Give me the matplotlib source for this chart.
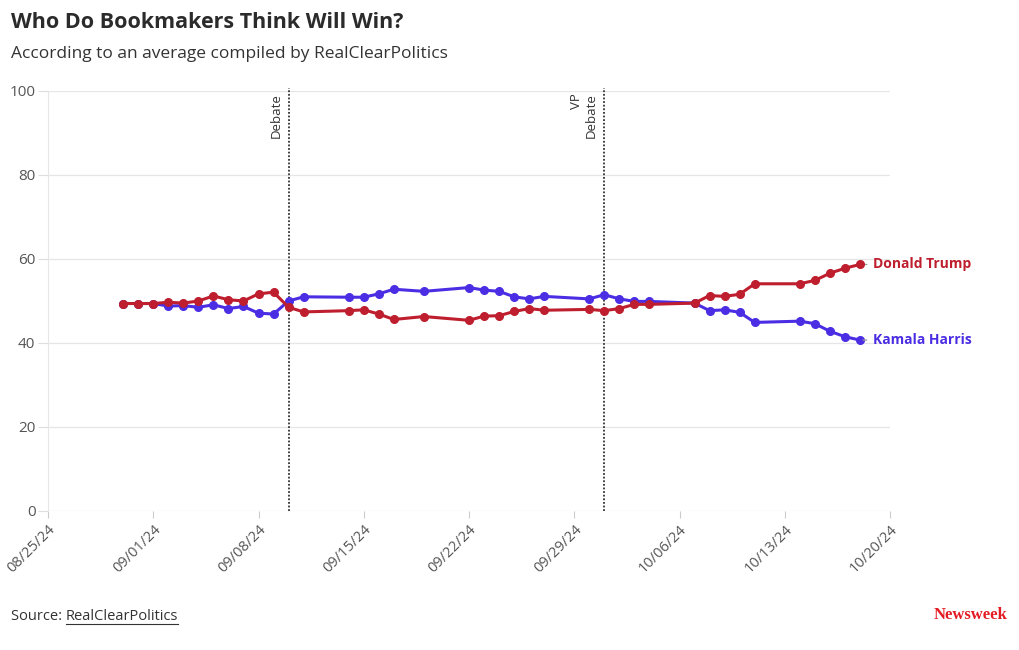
import matplotlib
matplotlib.use("Agg")
import matplotlib.pyplot as plt
import pandas as pd

plt.rcParams['font.family'] = ['Open Sans', 'DejaVu Sans']

# data
dates = ["2024-08-30", "2024-08-31", "2024-09-01", "2024-09-02", "2024-09-03",
         "2024-09-04", "2024-09-05", "2024-09-06", "2024-09-07", "2024-09-08",
         "2024-09-09", "2024-09-10", "2024-09-11", "2024-09-14", "2024-09-15",
         "2024-09-16", "2024-09-17", "2024-09-19", "2024-09-22", "2024-09-23",
         "2024-09-24", "2024-09-25", "2024-09-26", "2024-09-27", "2024-09-30",
         "2024-10-01", "2024-10-02", "2024-10-03", "2024-10-04", "2024-10-07",
         "2024-10-08", "2024-10-09", "2024-10-10", "2024-10-11", "2024-10-14",
         "2024-10-15", "2024-10-16", "2024-10-17", "2024-10-18"]
trump = [49.4, 49.4, 49.4, 49.7, 49.5, 50.0, 51.2, 50.3, 50.0, 51.7,
         52.1, 48.5, 47.4, 47.7, 47.9, 46.9, 45.6, 46.3, 45.4, 46.4,
         46.5, 47.5, 48.2, 47.8, 48.0, 47.7, 48.2, 49.2, 49.2, 49.5,
         51.3, 51.1, 51.6, 54.1, 54.1, 54.9, 56.6, 57.8, 58.7]
harris = [49.4, 49.4, 49.4, 48.8, 48.9, 48.5, 49.1, 48.2, 48.7, 47.1,
          46.9, 50.0, 51.0, 50.9, 50.9, 51.7, 52.8, 52.3, 53.2, 52.6,
          52.3, 51.0, 50.5, 51.1, 50.5, 51.5, 50.5, 49.9, 49.9, 49.5,
          47.7, 47.9, 47.3, 44.9, 45.2, 44.6, 42.8, 41.5, 40.7]
events = [("2024-09-10", "Debate"), ("2024-10-01", "VP\nDebate")]
x_start, x_end = "2024-08-25", "2024-10-20"
y_ticks = [0, 20, 40, 60, 80, 100]

red = "#be1e2d"
blue = "#4b2ee3"
grey = "#555555"

dt = pd.to_datetime(dates)

fig = plt.figure(figsize=(10.2, 6.5), dpi=100)
ax = fig.add_axes([48 / 1020, 139 / 650, 842 / 1020, 420 / 650])

ax.plot(dt, harris, color=blue, lw=2.2, marker="o", ms=5.5, zorder=3)
ax.plot(dt, trump, color=red, lw=2.2, marker="o", ms=5.5, zorder=4)

ax.set_xlim(pd.Timestamp(x_start), pd.Timestamp(x_end))
ax.set_ylim(0, 100)
ax.set_yticks(y_ticks)
ax.grid(axis="y", color="#e6e6e6", lw=0.9)
ax.set_axisbelow(True)
for s in ["top", "right", "bottom"]:
    ax.spines[s].set_visible(False)
ax.spines["left"].set_color("#e6e6e6")

ticks = pd.date_range(x_start, x_end, freq="7D")
ax.set_xticks(ticks)
ax.set_xticklabels([t.strftime("%m/%d/%y") for t in ticks])
ax.tick_params(axis="y", length=7, color="#dddddd", labelcolor=grey, labelsize=11, pad=2)
ax.tick_params(axis="x", length=5, color="#cccccc", labelcolor=grey, labelsize=10.5, pad=3)
for lab in ax.get_xticklabels():
    lab.set_rotation(45)
    lab.set_ha("right")
    lab.set_rotation_mode("anchor")

# debate markers
for d, txt in events:
    x = pd.Timestamp(d)
    ax.axvline(x, ymin=0, ymax=1.006, color="#333333", lw=1.3, ls=(0, (1, 1)), clip_on=False, zorder=2)
    ax.text(x - pd.Timedelta(hours=10), 99.5, txt, rotation=90, ha="right", va="top",
            fontsize=9.5, color="#333333", linespacing=1.2)

# end labels with a short grey leader
for vals, name, col in [(trump, "Donald Trump", red), (harris, "Kamala Harris", blue)]:
    ax.annotate(name, xy=(dt[-1], vals[-1]), xytext=(9.5, 0), textcoords="offset points",
                va="center", ha="left", color=col, fontsize=10, fontweight="bold",
                arrowprops=dict(arrowstyle="-", color="#999999", lw=0.9,
                                shrinkA=2.5, shrinkB=2.2),
                annotation_clip=False)

fig.text(11 / 1020, 1 - 22 / 650, "Who Do Bookmakers Think Will Win?", fontsize=15.5,
         fontweight="bold", color="#2b2b2b", va="center")
fig.text(11 / 1020, 1 - 54 / 650, "According to an average compiled by RealClearPolitics",
         fontsize=12.5, color="#333333", va="center")

src = fig.text(11 / 1020, 1 - 617 / 650, "Source: ", fontsize=10.5, color="#333333", va="center")
fig.canvas.draw()
r = fig.canvas.get_renderer()
bb = src.get_window_extent(r)
link = fig.text(bb.x1 / 1020, 1 - 617 / 650, "RealClearPolitics", fontsize=10.5,
                color="#333333", va="center")
fig.canvas.draw()
lb = link.get_window_extent(r)
fig.add_artist(plt.Line2D([lb.x0 / 1020, lb.x1 / 1020], [(lb.y0 + 1) / 650] * 2,
                          color="#333333", lw=0.8))

fig.text(1008 / 1020, 1 - 615 / 650, "Newsweek", fontsize=12, fontweight="bold",
         color="#e31b23", ha="right", va="center", family="Liberation Serif",
         fontstretch="condensed")

fig.savefig("out.png", dpi=100)
